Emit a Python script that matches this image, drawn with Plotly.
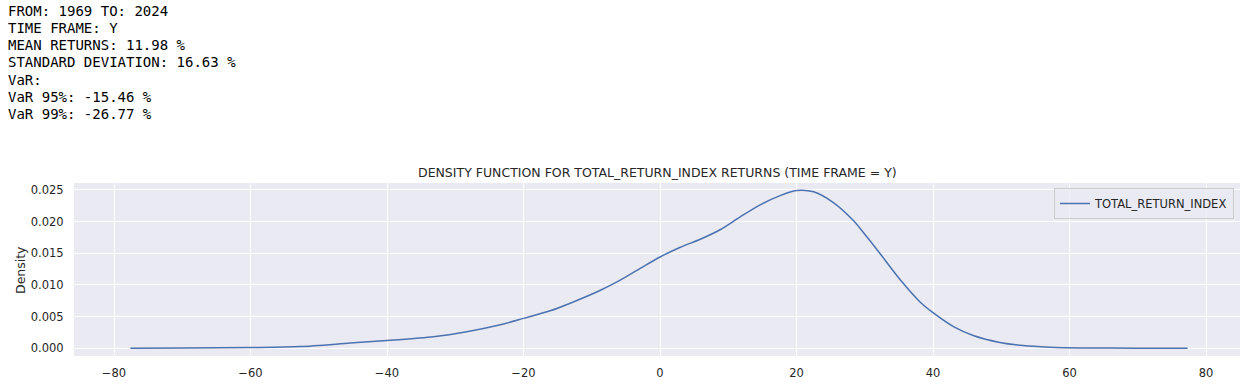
import plotly.graph_objects as go

# ---- data ----
info_lines = [
    "FROM: 1969 TO: 2024",
    "TIME FRAME: Y",
    "MEAN RETURNS: 11.98 %",
    "STANDARD DEVIATION: 16.63 %",
    "VaR:",
    "VaR 95%: -15.46 %",
    "VaR 99%: -26.77 %",
]

returns_x = [-77.6, -70, -60, -52.7, -45.4, -40, -33.2, -28.3, -23.4, -20, -16.1,
             -12.7, -8.8, -5.9, -2.9, 0, 2.9, 5.9, 8.8, 11.7, 14.6, 17.6, 20.0,
             22.5, 25.4, 28.3, 30.3, 32.2, 35.2, 38.1, 40, 43, 45.9, 49.8, 53.2,
             57.1, 62, 70, 77.3]
density_y = [0.0, 0.00001, 0.0001, 0.00025, 0.0008, 0.0012, 0.0018, 0.0026, 0.0037,
             0.0047, 0.0059, 0.0073, 0.0091, 0.0107, 0.0126, 0.0144, 0.0159, 0.0172,
             0.0187, 0.0207, 0.0226, 0.0241, 0.0249, 0.0247, 0.0230, 0.0202, 0.0176,
             0.0150, 0.0108, 0.0073, 0.0056, 0.0034, 0.0020, 0.0009, 0.0004, 0.00015,
             0.00003, 0.0, 0.0]

series_name = "TOTAL_RETURN_INDEX"
chart_title = "DENSITY FUNCTION FOR TOTAL_RETURN_INDEX RETURNS (TIME FRAME = Y)"
x_ticks = [-80, -60, -40, -20, 0, 20, 40, 60, 80]
y_ticks = [0.000, 0.005, 0.010, 0.015, 0.020, 0.025]

W, H = 1253, 385
L, R, T, B = 74, 13, 183, 29
PW, PH = W - L - R, H - T - B

def px_to_paper_x(px):
    return (px - L) / PW

def px_to_paper_y(py):
    return (H - B - py) / PH

fig = go.Figure()
fig.add_trace(go.Scatter(
    x=returns_x, y=density_y, mode="lines", name=series_name,
    line=dict(color="#4C72B0", width=1.5, shape="spline", smoothing=0.8),
    showlegend=True,
))

text_color = "#262626"
annotations = []
line_y0 = 10.7
line_step = 17.2
for i, t in enumerate(info_lines):
    annotations.append(dict(
        text=t, xref="paper", yref="paper",
        x=px_to_paper_x(6), y=px_to_paper_y(line_y0 + i * line_step),
        xanchor="left", yanchor="middle", showarrow=False,
        font=dict(family="DejaVu Sans Mono", size=14, color="#000000"),
    ))
annotations.append(dict(
    text=chart_title, xref="paper", yref="paper",
    x=px_to_paper_x(657), y=px_to_paper_y(172),
    xanchor="center", yanchor="middle", showarrow=False,
    font=dict(family="DejaVu Sans", size=12.5, color=text_color),
))
annotations.append(dict(
    text="Density", xref="paper", yref="paper",
    x=px_to_paper_x(20), y=px_to_paper_y(270),
    xanchor="center", yanchor="middle", showarrow=False, textangle=-90,
    font=dict(family="DejaVu Sans", size=12.5, color=text_color),
))

fig.update_layout(
    width=W, height=H,
    margin=dict(l=L, r=R, t=T, b=B, pad=0, autoexpand=False),
    paper_bgcolor="white",
    plot_bgcolor="#EAEAF2",
    font=dict(family="DejaVu Sans", size=11.5, color=text_color),
    annotations=annotations,
    legend=dict(
        x=px_to_paper_x(1234), y=px_to_paper_y(188),
        xanchor="right", yanchor="top",
        bgcolor="rgba(234,234,242,0.8)", bordercolor="#CCCCCC", borderwidth=1,
        font=dict(family="DejaVu Sans", size=11.5, color=text_color),
        itemwidth=30, tracegroupgap=0,
    ),
)

fig.update_xaxes(
    range=[-85.86, 84.98],
    tickvals=x_ticks,
    ticktext=[("\u2212" + str(abs(v))) if v < 0 else str(v) for v in x_ticks],
    showgrid=True, gridcolor="white", gridwidth=1,
    zeroline=False, showline=False, automargin=False,
    ticks="outside", ticklen=6, tickcolor="rgba(0,0,0,0)",
    tickfont=dict(family="DejaVu Sans", size=11.5, color=text_color),
)
fig.update_yaxes(
    range=[-0.00124, 0.02609],
    tickvals=y_ticks,
    ticktext=["%.3f" % v for v in y_ticks],
    showgrid=True, gridcolor="white", gridwidth=1,
    zeroline=False, showline=False, automargin=False,
    ticks="outside", ticklen=7, tickcolor="rgba(0,0,0,0)",
    tickfont=dict(family="DejaVu Sans", size=11.5, color=text_color),
)

fig.write_html("out.html")
